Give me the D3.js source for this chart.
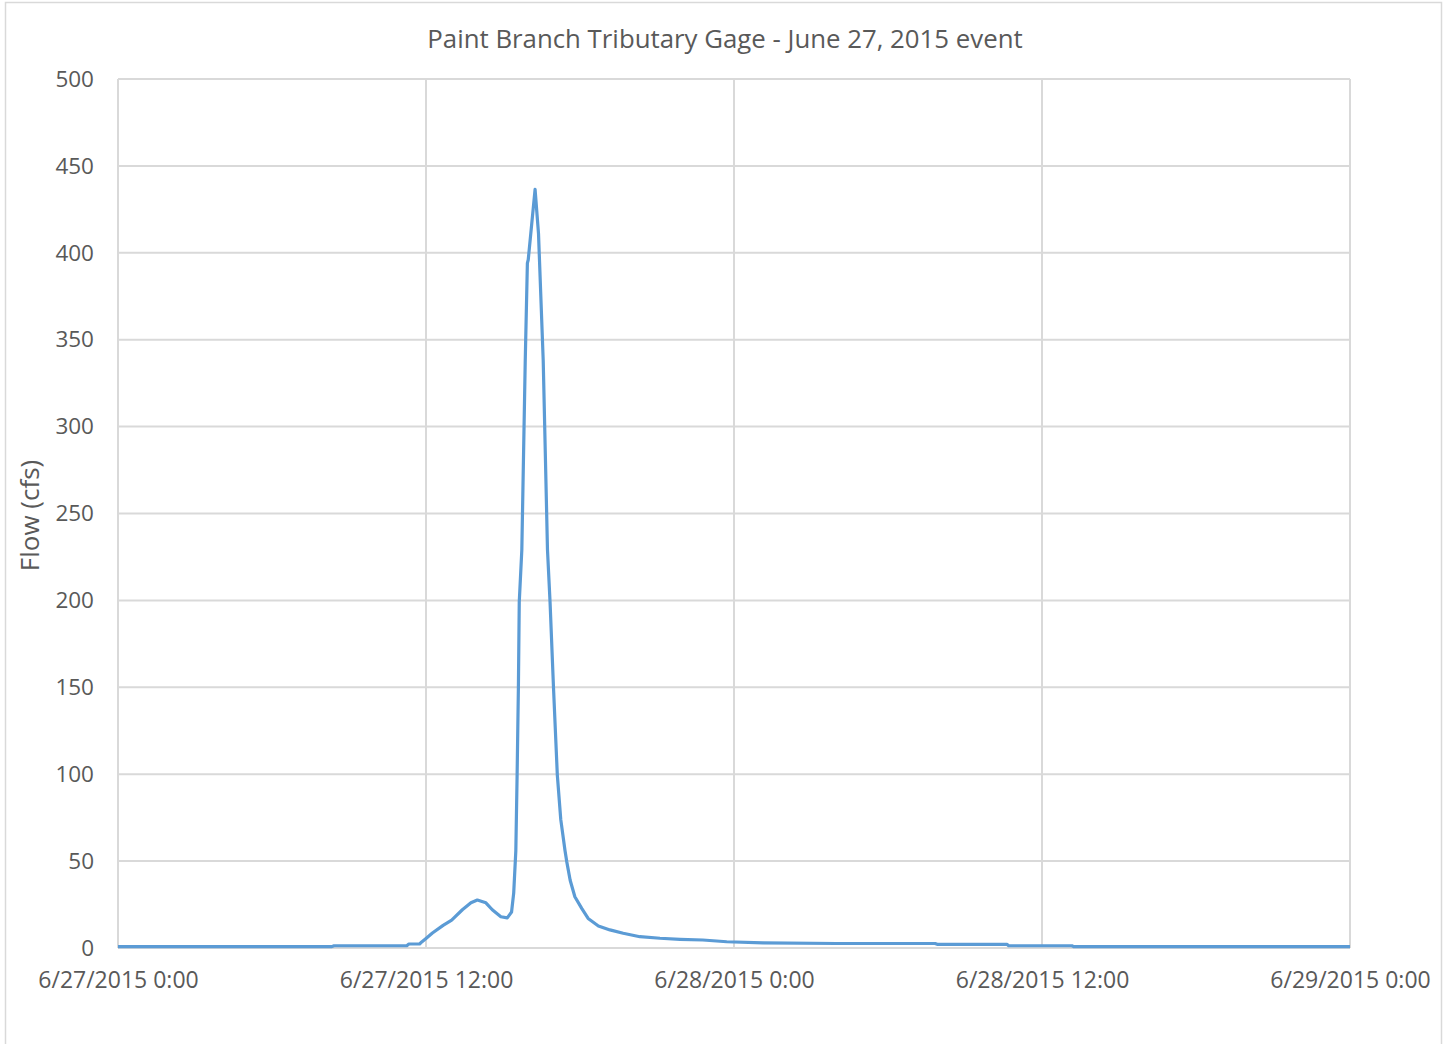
<!DOCTYPE html>
<html>
<head>
<meta charset="utf-8">
<script src="https://cdn.jsdelivr.net/npm/d3@7"></script>
<style>
  body { margin: 0; background: #fff; }
  text { font-family: "Open Sans", sans-serif; fill: #595959; }
</style>
</head>
<body>
<svg id="chart" width="1445" height="1044"></svg>
<script>
// readings off the gage hydrograph (time, flow in cfs)
var times = ["2015-06-27 00:00", "2015-06-27 08:20", "2015-06-27 08:25", "2015-06-27 11:15", "2015-06-27 11:20",
  "2015-06-27 11:45", "2015-06-27 11:50", "2015-06-27 12:00", "2015-06-27 12:15", "2015-06-27 12:40",
  "2015-06-27 13:00", "2015-06-27 13:25", "2015-06-27 13:45", "2015-06-27 14:00", "2015-06-27 14:20",
  "2015-06-27 14:35", "2015-06-27 14:55", "2015-06-27 15:10", "2015-06-27 15:20", "2015-06-27 15:25",
  "2015-06-27 15:30", "2015-06-27 15:33", "2015-06-27 15:36", "2015-06-27 15:38", "2015-06-27 15:44",
  "2015-06-27 15:52", "2015-06-27 15:57", "2015-06-27 15:59", "2015-06-27 16:15", "2015-06-27 16:23",
  "2015-06-27 16:34", "2015-06-27 16:44", "2015-06-27 16:50", "2015-06-27 16:58", "2015-06-27 17:07",
  "2015-06-27 17:15", "2015-06-27 17:25", "2015-06-27 17:29", "2015-06-27 17:37", "2015-06-27 17:48",
  "2015-06-27 18:04", "2015-06-27 18:19", "2015-06-27 18:43", "2015-06-27 19:10", "2015-06-27 19:41",
  "2015-06-27 20:20", "2015-06-27 21:07", "2015-06-27 21:54", "2015-06-27 22:47", "2015-06-27 23:43",
  "2015-06-28 01:08", "2015-06-28 04:00", "2015-06-28 07:50", "2015-06-28 07:55", "2015-06-28 10:38",
  "2015-06-28 10:42", "2015-06-28 13:10", "2015-06-28 13:14", "2015-06-29 00:00"];
var flow = [0.8, 0.8, 1.3, 1.3, 2.3,
  2.3, 3.5, 5.5, 8.6, 13,
  16, 22, 26, 27.6, 26,
  22, 18, 17.3, 20.7, 31.6,
  56, 99.5, 150, 199, 229,
  338, 394, 396, 436.5, 411,
  338, 229, 199, 150, 99.5,
  74, 56, 49.7, 39, 29.5,
  22.8, 17, 12.7, 10.4, 8.5,
  6.5, 5.6, 5.0, 4.6, 3.6,
  3.0, 2.6, 2.6, 2.1, 2.1,
  1.3, 1.3, 0.8, 0.8];
var yTicks = [0, 50, 100, 150, 200, 250, 300, 350, 400, 450, 500];
var xTickLabels = ["6/27/2015 0:00", "6/27/2015 12:00", "6/28/2015 0:00", "6/28/2015 12:00", "6/29/2015 0:00"];

var parse = d3.timeParse("%Y-%m-%d %H:%M");
var data = times.map(function(t, i) { return { t: parse(t), v: flow[i] }; });
var xTicks = xTickLabels.map(function(s) { return d3.timeParse("%m/%d/%Y %H:%M")(s); });

var margin = { left: 118, right: 95, top: 79, bottom: 96 };
var W = 1445, H = 1044;

var svg = d3.select("#chart");

// outer chart border
svg.append("path")
  .attr("d", "M5.5,1044 V2.5 H1441.5 V1044")
  .attr("fill", "none")
  .attr("stroke", "#d9d9d9")
  .attr("stroke-width", 1.5);

var x = d3.scaleTime()
  .domain([xTicks[0], xTicks[xTicks.length - 1]])
  .range([margin.left, W - margin.right]);
var y = d3.scaleLinear()
  .domain([0, 500])
  .range([H - margin.bottom, margin.top]);

// gridlines
svg.append("g").selectAll("line.h")
  .data(yTicks).enter().append("line")
  .attr("x1", margin.left).attr("x2", W - margin.right)
  .attr("y1", d => y(d)).attr("y2", d => y(d))
  .attr("stroke", "#d9d9d9").attr("stroke-width", 2);

svg.append("g").selectAll("line.v")
  .data(xTicks).enter().append("line")
  .attr("x1", d => x(d)).attr("x2", d => x(d))
  .attr("y1", margin.top).attr("y2", H - margin.bottom)
  .attr("stroke", "#d9d9d9").attr("stroke-width", 2);

// y tick labels
var yAxis = svg.append("g")
  .attr("transform", "translate(" + (margin.left - 24) + ",0)")
  .call(d3.axisLeft(y).tickValues(yTicks).tickSize(0).tickPadding(0));
yAxis.select(".domain").remove();
yAxis.selectAll("text").style("font-size", "22.5px").attr("fill", "#595959");

// x tick labels
var xAxis = svg.append("g")
  .attr("transform", "translate(0," + (H - margin.bottom + 24) + ")")
  .call(d3.axisBottom(x).tickValues(xTicks).tickSize(0).tickPadding(0)
    .tickFormat((d, i) => xTickLabels[i]));
xAxis.select(".domain").remove();
xAxis.selectAll("text").style("font-size", "23px").attr("fill", "#595959");

// series line
var line = d3.line()
  .x(d => x(d.t))
  .y(d => y(d.v));

svg.append("path")
  .datum(data)
  .attr("d", line)
  .attr("fill", "none")
  .attr("stroke", "#5b9bd5")
  .attr("stroke-width", 3.2)
  .attr("stroke-linejoin", "round");

// title
svg.append("text")
  .attr("x", 725).attr("y", 48)
  .attr("text-anchor", "middle")
  .style("font-size", "25.8px")
  .text("Paint Branch Tributary Gage - June 27, 2015 event");

// y axis label
svg.append("text")
  .attr("transform", "translate(39," + ((margin.top + H - margin.bottom) / 2 + 2) + ") rotate(-90)")
  .attr("text-anchor", "middle")
  .style("font-size", "26px")
  .text("Flow (cfs)");
</script>
</body>
</html>
